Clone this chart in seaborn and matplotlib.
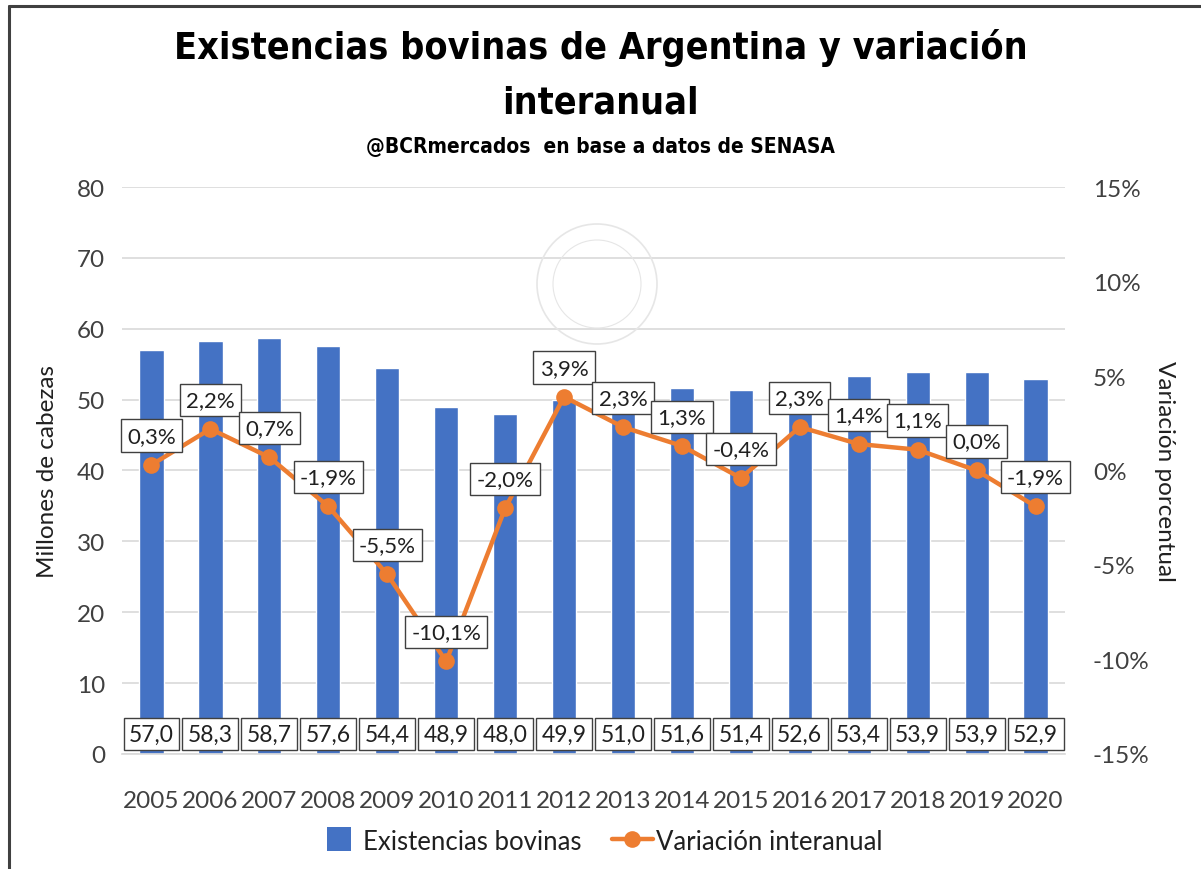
import numpy as np
import pandas as pd
import matplotlib
matplotlib.use("Agg")
import matplotlib.pyplot as plt
import seaborn as sns
from matplotlib.lines import Line2D
from matplotlib.patches import Ellipse

years = ["2005", "2006", "2007", "2008", "2009", "2010", "2011", "2012",
         "2013", "2014", "2015", "2016", "2017", "2018", "2019", "2020"]
existencias = [57.0, 58.3, 58.7, 57.6, 54.4, 48.9, 48.0, 49.9,
               51.0, 51.6, 51.4, 52.6, 53.4, 53.9, 53.9, 52.9]
variacion = [0.3, 2.2, 0.7, -1.9, -5.5, -10.1, -2.0, 3.9,
             2.3, 1.3, -0.4, 2.3, 1.4, 1.1, 0.0, -1.9]
left_ticks = [0, 10, 20, 30, 40, 50, 60, 70, 80]
right_ticks = [-15, -10, -5, 0, 5, 10, 15]

BLUE = "#4472C4"
ORANGE = "#ED7D31"
TXT = "#404040"

sns.set_theme(style="white")
plt.rcParams["font.family"] = ["Lato", "DejaVu Sans"]

df = pd.DataFrame({"year": years, "exist": existencias, "var": variacion})

fig = plt.figure(figsize=(12.01, 8.70), dpi=100)
ax = fig.add_axes([0.1016, 0.1322, 0.7852, 0.6517])

sns.barplot(data=df, x="year", y="exist", color=BLUE, width=0.41,
            saturation=1, ax=ax, zorder=2)
ax.set_ylim(0, 80)
ax.set_xlim(-0.5, len(years) - 0.5)
ax.set_yticks(left_ticks)
ax.yaxis.grid(True, color="#d9d9d9", linewidth=1.2, zorder=0)
ax.set_axisbelow(True)
for s in ["top", "right", "left"]:
    ax.spines[s].set_visible(False)
ax.spines["bottom"].set_color("#d9d9d9")
ax.spines["bottom"].set_linewidth(1.2)
ax.tick_params(axis="both", length=0, labelsize=17.5, labelcolor=TXT)
ax.tick_params(axis="x", pad=26)
ax.tick_params(axis="y", pad=12)
ax.set_xlabel("")
ax.set_ylabel("Millones de cabezas", fontsize=17.5, color="#202020", labelpad=14)

ax2 = ax.twinx()
sns.lineplot(x=np.arange(len(years)), y=variacion, ax=ax2, color=ORANGE,
             linewidth=3.2, marker="o", markersize=12, markeredgewidth=0,
             zorder=4)
ax2.set_ylim(-15, 15)
ax2.set_yticks(right_ticks)
ax2.set_yticklabels([f"{t}%" for t in right_ticks])
ax2.tick_params(axis="y", length=0, labelsize=17.5, labelcolor=TXT, pad=20)
for s in ["top", "right", "left", "bottom"]:
    ax2.spines[s].set_visible(False)
ax2.set_ylabel("Variación porcentual", fontsize=17.5, color="#202020",
               rotation=270, labelpad=18)
ax2.grid(False)

box = dict(boxstyle="square,pad=0.24", facecolor="white", edgecolor="#404040",
           linewidth=1.0)
box2 = dict(boxstyle="square,pad=0.28", facecolor="white", edgecolor="#404040",
            linewidth=1.0)
for i, v in enumerate(existencias):
    ax.annotate(f"{v:.1f}".replace(".", ","), xy=(i, 0), xytext=(0, 14.5),
                textcoords="offset points", ha="center", va="center",
                fontsize=16.5, color="#202020", bbox=box, zorder=5)
for i, v in enumerate(variacion):
    ax2.annotate(f"{v:.1f}".replace(".", ",") + "%", xy=(i, v), xytext=(0, 21),
                 textcoords="offset points", ha="center", va="center",
                 fontsize=16, color="#202020", bbox=box2, zorder=6)

# faint watermark seal
for r, lw in [(60, 1.2), (44, 0.8)]:
    fig.add_artist(Ellipse((597 / 1201, 1 - 285 / 870), 2 * r / 1201, 2 * r / 870,
                           fill=False, edgecolor="#e6e6e6", linewidth=lw))

title_font = dict(family=["DejaVu Sans"], fontstretch="condensed",
                  fontweight="bold", color="black")
fig.text(0.5, 1 - 48 / 870, "Existencias bovinas de Argentina y variación",
         ha="center", va="center", fontsize=27, **title_font)
fig.text(0.5, 1 - 103 / 870, "interanual", ha="center", va="center",
         fontsize=27, **title_font)
fig.text(0.5, 1 - 147 / 870, "@BCRmercados  en base a datos de SENASA",
         ha="center", va="center", fontsize=15, **title_font)

handles = [Line2D([0], [0], color=BLUE, marker="s", linestyle="none",
                  markersize=17, markeredgewidth=0),
           Line2D([0], [0], color=ORANGE, linewidth=3.2, marker="o",
                  markersize=12, markeredgewidth=0)]
fig.legend(handles, ["Existencias bovinas", "Variación interanual"],
           loc="center", bbox_to_anchor=(0.5, 1 - 842 / 870), ncol=2,
           frameon=False, fontsize=18.5, labelcolor="#202020",
           handlelength=1.6, handleheight=1.0, handletextpad=0.1,
           columnspacing=1.2)

# frame lines (left and top)
fig.add_artist(Line2D([9 / 1201, 9 / 1201], [0, 1 - 7 / 870], color="#404040",
                      linewidth=2.2))
fig.add_artist(Line2D([9 / 1201, 1], [1 - 7 / 870, 1 - 7 / 870], color="#404040",
                      linewidth=2.2))

fig.savefig("out.png", dpi=100, facecolor="white")
